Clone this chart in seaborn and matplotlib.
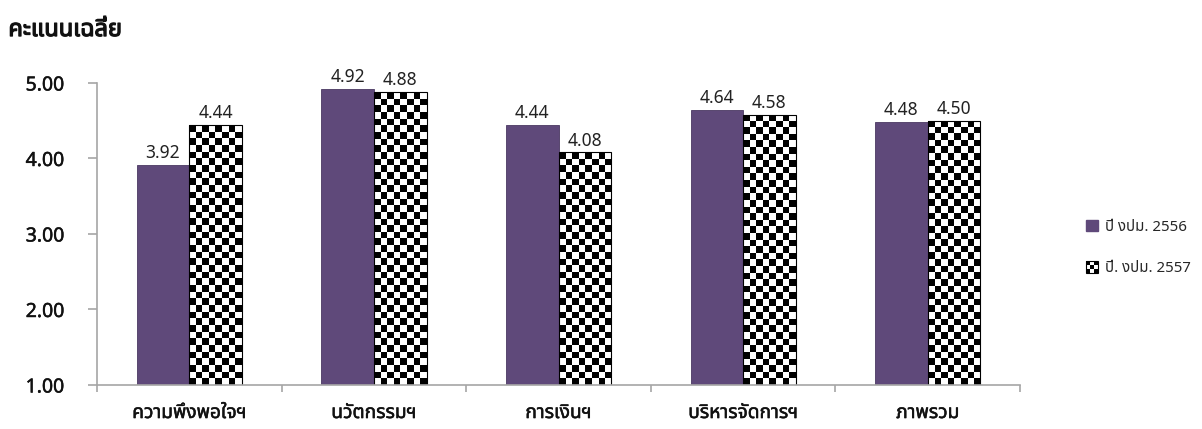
import numpy as np
import pandas as pd
import matplotlib
matplotlib.use("Agg")
import matplotlib.pyplot as plt
import matplotlib.patheffects as pe
import seaborn as sns
from matplotlib import font_manager
from matplotlib.ft2font import FT2Font
from matplotlib.patches import Rectangle, Patch
from matplotlib.legend_handler import HandlerBase

categories = ['ความพึงพอใจฯ', 'นวัตกรรมฯ', 'การเงินฯ', 'บริหารจัดการฯ', 'ภาพรวม']
years = ['ปี งปม. 2556', 'ปี. งปม. 2557']
scores_2556 = [3.92, 4.92, 4.44, 4.64, 4.48]
scores_2557 = [4.44, 4.88, 4.08, 4.58, 4.50]
yticks = [1.00, 2.00, 3.00, 4.00, 5.00]

purple = '#5F497A'


def find_thai_font():
    # look for any installed font that has Thai glyphs
    found = []
    for f in font_manager.fontManager.ttflist:
        try:
            cmap = FT2Font(f.fname).get_charmap()
        except Exception:
            continue
        if 0x0E04 in cmap and 0x0E27 in cmap:
            found.append(f.name)
    for pref in ['Tahoma', 'Noto Sans Thai', 'Noto Sans Thai UI', 'Loma', 'Garuda', 'Sarabun', 'Kinnari']:
        if pref in found:
            return pref
    return found[0] if found else None


class CheckerHandler(HandlerBase):
    def create_artists(self, legend, orig_handle, xdescent, ydescent, width, height, fontsize, trans):
        n = 3
        arts = [Rectangle((-xdescent, -ydescent), width, height, facecolor='white',
                          edgecolor='black', lw=0.8, transform=trans)]
        cw, ch = width / n, height / n
        for i in range(n):
            for j in range(n):
                if (i + j) % 2 == 0:
                    arts.append(Rectangle((-xdescent + i * cw, -ydescent + j * ch), cw, ch,
                                          facecolor='black', edgecolor='none', transform=trans))
        return arts


def main():
    sns.set_style('white')
    thai = find_thai_font()
    fams = [thai, 'DejaVu Sans'] if thai else ['DejaVu Sans']
    plt.rcParams['font.family'] = fams

    df = pd.DataFrame({
        'category': categories * 2,
        'year': [years[0]] * len(categories) + [years[1]] * len(categories),
        'score': scores_2556 + scores_2557,
    })

    fig = plt.figure(figsize=(12.02, 4.29), dpi=100)
    ax = fig.add_axes([0.0807, 0.1026, 0.7679, 0.7040])

    sns.barplot(data=df, x='category', y='score', hue='year', hue_order=years,
                palette={years[0]: purple, years[1]: 'white'}, saturation=1,
                width=0.57, errorbar=None, legend=False, ax=ax)

    ax.set_xlim(-0.5, len(categories) - 0.5)
    ax.set_ylim(yticks[0], yticks[-1])

    for bar in ax.containers[0]:
        bar.set_edgecolor('#4a3862')
        bar.set_linewidth(0.6)

    # checkerboard fill for the second series
    cell_y = 0.088
    for bar in ax.containers[1]:
        x0 = bar.get_x()
        w = bar.get_width()
        y0 = max(bar.get_y(), ax.get_ylim()[0])
        y1 = bar.get_y() + bar.get_height()
        nx = 8
        ny = max(1, int(round((y1 - y0) / cell_y)))
        img = (np.indices((ny, nx)).sum(axis=0) % 2).astype(float)
        im = ax.imshow(img, cmap='gray', extent=[x0, x0 + w, y0, y1], aspect='auto',
                       interpolation='nearest', zorder=bar.get_zorder() - 0.01)
        im.set_clip_path(bar)
        bar.set_facecolor('none')
        bar.set_edgecolor('black')
        bar.set_linewidth(0.8)

    ax.set_xlim(-0.5, len(categories) - 0.5)
    ax.set_ylim(yticks[0], yticks[-1])

    for cont in ax.containers:
        ax.bar_label(cont, fmt='%.2f', padding=2, fontsize=12.5, color='#222222')

    sns.despine(ax=ax, top=True, right=True)
    for side in ['left', 'bottom']:
        ax.spines[side].set_color('#a6a6a6')
        ax.spines[side].set_linewidth(1.2)

    # Tahoma-ish slightly heavier strokes
    heavy = [pe.withStroke(linewidth=0.35, foreground='#111111')]

    ax.set_yticks(yticks)
    ax.set_yticklabels(['%.2f' % v for v in yticks], fontsize=14, color='#111111')
    ax.tick_params(axis='y', left=True, length=6.5, width=1.2, color='#a6a6a6', pad=17)

    ax.set_xticks(range(len(categories)))
    ax.set_xticklabels(categories, fontsize=13.8, color='#111111')
    ax.set_xticks(np.arange(-0.5, len(categories)), minor=True)
    ax.tick_params(axis='x', which='major', length=0, pad=13)
    ax.tick_params(axis='x', which='minor', bottom=True, length=5, width=1.2, color='#a6a6a6')
    ax.set_xlabel('')
    ax.set_ylabel('')
    for lab in ax.get_xticklabels() + ax.get_yticklabels():
        lab.set_path_effects(heavy)

    fig.text(0.007, 0.93, 'คะแนนเฉลี่ย', fontsize=17, fontweight='bold', va='center', ha='left',
             color='#111111', path_effects=[pe.withStroke(linewidth=0.9, foreground='#111111')])

    handles = [Patch(facecolor=purple, edgecolor=purple), Patch(facecolor='white')]
    fig.legend(handles, years, loc='center left', bbox_to_anchor=(0.897, 0.422),
               frameon=False, fontsize=10.8, handlelength=0.8, handleheight=0.8,
               handletextpad=0.5, labelspacing=1.75, borderpad=0,
               handler_map={handles[1]: CheckerHandler()})

    fig.savefig('out.png', dpi=100)


if __name__ == "__main__":
    main()
